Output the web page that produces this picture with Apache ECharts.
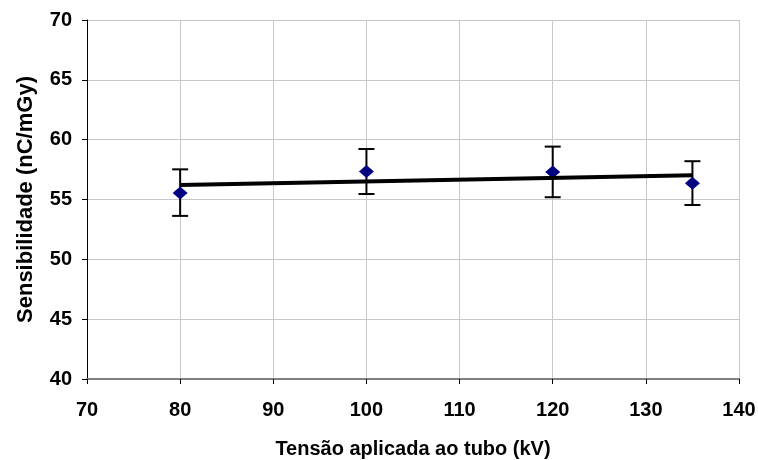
<!DOCTYPE html>
<html>
<head>
<meta charset="utf-8">
<script src="https://cdn.jsdelivr.net/npm/echarts@6/dist/echarts.min.js"></script>
<style>html,body{margin:0;padding:0;background:#fff;}#c{width:758px;height:460px;}</style>
</head>
<body>
<div id="c"></div>
<script>
var voltages = [80, 100, 120, 135];
var sensitivity = [55.55, 57.33, 57.30, 56.36];
var errLow = [53.63, 55.46, 55.19, 54.54];
var errHigh = [57.52, 59.22, 59.42, 58.20];
var trendX = [80, 135];
var trendY = [56.22, 57.03];
var xTicks = {min: 70, max: 140, interval: 10};
var yTicks = {min: 40, max: 70, interval: 5};

var font = 'Liberation Sans, Arial, sans-serif';
var chart = echarts.init(document.getElementById('c'));
var pts = voltages.map(function (v, i) { return [v, sensitivity[i]]; });
var errs = voltages.map(function (v, i) { return [v, errLow[i], errHigh[i]]; });
var trend = trendX.map(function (v, i) { return [v, trendY[i]]; });

chart.setOption({
  animation: false,
  backgroundColor: '#fff',
  grid: {left: 87, top: 20, right: 19, bottom: 81, outerBoundsMode: 'none', containLabel: false},
  xAxis: {
    type: 'value', min: xTicks.min, max: xTicks.max, interval: xTicks.interval,
    name: 'Tensão aplicada ao tubo (kV)', nameLocation: 'middle', nameGap: 60,
    nameTextStyle: {fontFamily: font, fontWeight: 'bold', fontSize: 20, color: '#000'},
    axisLine: {show: true, lineStyle: {color: '#808080', width: 2}},
    axisTick: {show: true, length: 5, lineStyle: {color: '#000', width: 1}},
    axisLabel: {fontFamily: font, fontWeight: 'bold', fontSize: 20, color: '#000', margin: 21},
    splitLine: {show: true, lineStyle: {color: '#c8c8c8', width: 1}}
  },
  yAxis: {
    type: 'value', min: yTicks.min, max: yTicks.max, interval: yTicks.interval,
    name: 'Sensibilidade (nC/mGy)', nameLocation: 'middle', nameGap: 50,
    nameTextStyle: {fontFamily: font, fontWeight: 'bold', fontSize: 22, color: '#000'},
    axisLine: {show: true, lineStyle: {color: '#000', width: 1}},
    axisTick: {show: true, length: 5, lineStyle: {color: '#000', width: 1}},
    axisLabel: {fontFamily: font, fontWeight: 'bold', fontSize: 20, color: '#000', margin: 15},
    splitLine: {show: true, lineStyle: {color: '#c8c8c8', width: 1}}
  },
  series: [
    {
      type: 'custom', z: 2,
      data: errs,
      renderItem: function (params, api) {
        var x = api.value(0);
        var lo = api.coord([x, api.value(1)]);
        var hi = api.coord([x, api.value(2)]);
        var w = 8;
        var st = {stroke: '#000', lineWidth: 2};
        return {type: 'group', children: [
          {type: 'line', shape: {x1: lo[0], y1: lo[1], x2: hi[0], y2: hi[1]}, style: st},
          {type: 'line', shape: {x1: lo[0] - w, y1: lo[1], x2: lo[0] + w, y2: lo[1]}, style: st},
          {type: 'line', shape: {x1: hi[0] - w, y1: hi[1], x2: hi[0] + w, y2: hi[1]}, style: st}
        ]};
      }
    },
    {
      type: 'scatter', z: 3, data: pts,
      symbol: 'diamond', symbolSize: [15, 13],
      itemStyle: {color: '#000080', opacity: 1}
    },
    {
      type: 'line', z: 4, data: trend, showSymbol: false, symbol: 'none',
      lineStyle: {color: '#000', width: 4}
    }
  ]
});
</script>
</body>
</html>
